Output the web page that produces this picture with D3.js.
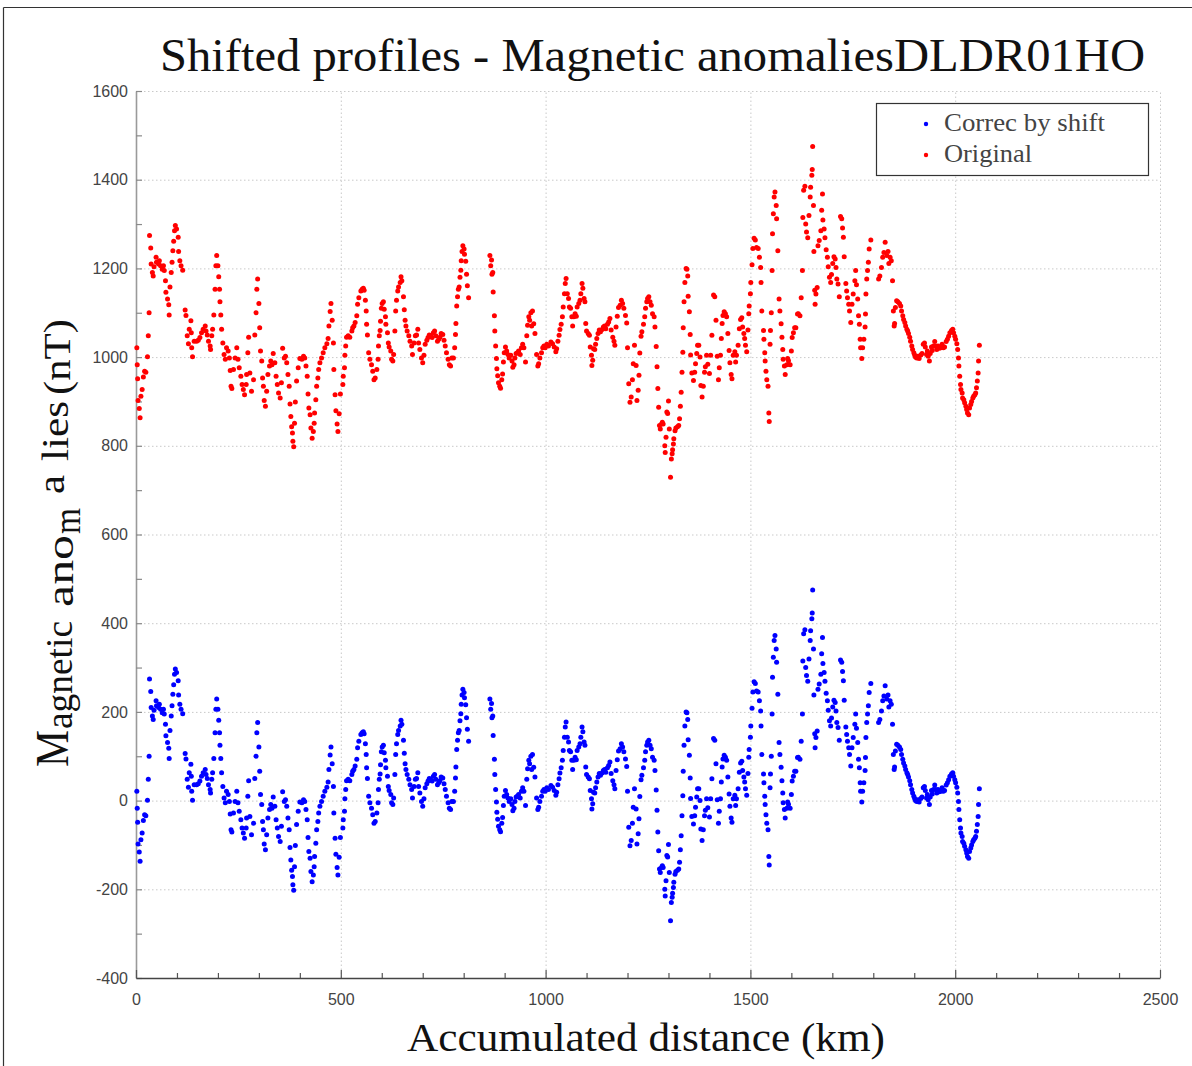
<!DOCTYPE html>
<html>
<head>
<meta charset="utf-8">
<script src="https://cdn.jsdelivr.net/npm/d3@7"></script>
<style>
  body { margin: 0; background: #fff; }
  svg { display: block; }
</style>
</head>
<body>
<svg id="chart" width="1192" height="1066"></svg>
<script>
// Accumulated distance along the DLDR01HO track (km)
const distanceKm = [
2,3,4,5,8,10,12,15,18,21,24,28,30,32,33,36,37,40,42,44,49,50,55,57,60,64,67,69,72,73,
77,80,81,83,86,88,90,92,94,96,99,103,104,107,110,114,120,122,125,128,130,134,135,136,138,142,148,152,156,160,
164,169,171,174,177,181,182,185,187,190,193,195,197,200,202,204,205,207,209,212,215,218,221,225,228,230,232,234,238,242,
246,249,252,256,259,262,265,269,270,273,275,278,282,287,290,293,295,297,300,302,304,307,309,311,313,316,319,322,326,329,
332,335,339,342,345,348,352,355,358,362,365,368,371,374,376,378,380,382,383,385,387,389,392,396,400,405,409,412,415,418,
420,422,425,427,430,433,435,436,439,441,444,446,449,453,457,461,466,469,471,474,476,479,482,483,486,488,491,493,496,499,
505,506,509,510,512,514,518,522,527,529,532,535,539,541,544,549,552,555,557,560,562,563,565,568,571,575,578,581,584,588,
591,592,594,596,597,599,601,604,606,609,610,614,616,618,622,624,627,629,632,634,636,639,641,645,647,649,653,655,657,659,
662,666,669,673,675,679,682,685,688,690,693,697,700,703,706,710,713,716,719,723,726,729,732,736,739,742,745,749,752,755,
758,762,765,768,771,775,778,780,781,783,785,787,789,791,793,794,796,798,801,802,805,807,809,812,
864,866,868,869,871,872,875,876,878,880,881,883,885,888,890,893,895,897,899,902,905,908,911,915,918,920,923,925,928,931,
934,938,941,944,947,951,954,956,959,961,964,966,968,971,974,978,981,983,986,990,993,996,999,1003,1007,
1013,1017,1021,1025,1027,1030,1033,1035,1038,1041,1043,1046,1048,1050,1053,1056,1058,1061,1064,1066,
1069,1072,1075,1077,1081,1084,1086,1089,1091,1094,1096,1098,1100,1104,1107,1109,1112,1113,1115,1117,
1120,1122,1125,1128,1131,1134,1138,1141,1144,1147,1151,1154,1157,1160,1164,1167,1169,1172,1175,1178,
1182,1185,1188,1191,1195,1198,1200,1203,1206,1209,1212,1214,1217,1221,1223,1226,1228,1230,1233,1235,
1239,1242,1244,1247,1249,1252,1255,1258,1261,1265,1267,1270,1272,1274,1276,1278,1280,1283,1285,1287,
1291,1292,1294,1296,1298,1300,1302,1305,1307,1309,1310,1312,1313,1316,1318,1322,1325,1327,1329,1331,
1333,1335,1336,1338,1340,1343,1345,1347,1348,1351,1353,1354,1357,1361,1364,1366,1369,1371,1374,1377,
1379,1382,1385,1388,1390,1393,1396,1400,1403,1406,1410,1413,1416,1419,1422,1424,1427,1429,1431,1433,
1436,1439,1442,1445,1448,1450,1453,1455,1458,1462,1464,1466,1470,1473,1476,1479,1481,1484,1486,1488,
1491,1494,1496,1497,1500,1501,1504,1506,1509,1512,1515,1519,1522,
1525,1526,1528,1532,1533,1535,1536,1538,1540,1543,1545,1546,1548,1549,1551,1553,1554,1556,1558,1560,
1563,1564,1567,1570,1572,1575,1577,1579,1580,1583,1585,1589,1591,1593,1597,1600,1602,1605,1608,1611,
1615,1617,1621,1624,1627,1628,1630,1633,1635,1637,1640,1643,1646,1647,1650,1651,1652,1654,1655,1657,
1658,1660,1663,1665,1668,1672,1674,1676,1677,1680,1682,1685,1688,1690,1693,1696,1698,1701,1704,1707,
1709,1711,1714,1717,1720,1723,1725,1727,1729,1733,1735,1737,1740,1742,1745,1748,1751,1755,1757,1759,
1762,1764,1766,1768,1769,1772,1774,1777,1780,1781,1782,1784,1786,1788,1790,1794,1813,1816,1820,1823,
1826,1829,1833,1836,1838,1841,1844,1847,1849,1851,1852,1854,1857,1860,1864,1867,1869,1872,1874,1877,
1879,1882,1884,1886,1889,1891,1894,1896,1899,1901,1903,1906,1909,1912,1916,1919,1922,1925,1927,1930,
1932,1934,1937,1939,1942,1944,1947,1950,1952,1955,1958,1961,1965,1968,1971,1974,1978,1981,1984,1987,
1991,1994,1996,1999,2001,2004,2006,2008,2009,2011,2013,2014,2017,2018,2021,2023,2026,2028,2030,2033,
2035,2038,2040,2043,2045,2048,2050,2052,2054,2056,2057,2059
];

// Magnetic anomaly as recorded (nT)
const originalNT = [
1021,983,951,902,884,863,912,927,955,968,966,1001,1048,1100,1274,1246,1210,1191,1183,1204,1225,1214,1210,1217,1206,1198,1206,1195,1172,1146,
1131,1118,1095,1158,1191,1214,1240,1261,1285,1297,1289,1270,1238,1217,1206,1196,1106,1094,1048,1030,1063,1082,1055,1021,1001,1036,1036,1038,1044,1055,
1063,1070,1059,1050,1036,1025,1017,1048,1063,1095,1153,1206,1229,1206,1181,1153,1125,1095,1063,1032,1006,995,1021,1014,998,970,934,929,972,998,
1021,995,976,957,938,927,915,938,961,1010,1045,964,923,949,1050,1100,1153,1176,1121,1066,1014,991,953,934,902,889,923,961,980,991,
983,1008,987,957,938,919,908,942,1020,998,1002,987,961,934,894,866,843,829,810,798,851,899,946,976,997,995,1002,998,980,957,
917,885,870,840,817,832,851,874,904,934,953,972,987,998,1010,1021,1030,1042,1070,1103,1121,1083,1032,972,915,879,849,832,872,917,
938,957,976,1004,1025,1045,1048,1045,1059,1066,1070,1078,1093,1119,1134,1149,1153,1155,1151,1128,1104,1074,1050,1010,995,983,968,949,953,972,
995,1025,1048,1060,1081,1110,1121,1125,1108,1091,1074,1055,1032,1023,1014,995,991,1006,1059,1104,1128,1149,1158,1168,1181,1172,1136,1107,1083,1070,
1059,1048,1036,1025,1006,1032,1048,1050,1063,1032,1017,998,987,1004,1029,1038,1044,1050,1048,1044,1055,1059,1048,1036,1040,1045,1053,1051,1038,1025,
1010,995,983,980,998,998,1021,1051,1076,1115,1136,1153,1158,1180,1196,1217,1238,1251,1244,1232,1216,1187,1161,1134,
1229,1206,1219,1187,1191,1147,1093,1059,1025,997,974,958,942,934,930,949,962,989,1010,1023,1014,1006,998,1004,991,977,983,998,1008,1010,
1014,1006,1021,1029,1021,989,1048,1072,1091,1083,1100,1070,1104,1075,1053,1006,980,985,998,1010,1021,1025,1021,1029,1025,
1034,1030,1023,1012,1019,1036,1049,1062,1074,1091,1113,1143,1166,1177,1143,1132,1113,1110,1091,1070,
1091,1098,1092,1113,1121,1128,1143,1166,1155,1132,1125,1076,1059,1053,1049,1023,1004,981,993,1019,
1017,1029,1042,1053,1061,1057,1062,1068,1070,1064,1074,1079,1087,1061,1045,1036,1027,1068,1092,1112,
1117,1128,1121,1110,1094,1077,1021,940,898,910,949,985,1027,981,902,925,959,1009,1047,1057,
1074,1091,1110,1125,1132,1136,1125,1117,1098,1091,1068,1024,978,929,887,846,838,849,853,849,
800,785,819,876,873,901,838,729,770,782,791,804,816,834,840,843,846,861,889,921,
966,1011,1066,1125,1168,1200,1198,1183,1137,1102,1051,1005,964,947,966,985,1008,1027,1027,1000,
936,910,934,966,978,1004,984,963,1004,1049,1140,1136,1083,1002,949,976,1004,1042,1076,1094,
1102,1098,1091,1053,1015,987,961,951,1004,1012,989,1004,1027,1064,1085,1089,1068,1053,1042,1027,
1012,1061,1098,1115,1143,1168,1208,1245,1268,1264,1247,1245,1225,
1202,1168,1104,1060,1040,1010,991,968,949,934,874,855,1029,1060,1100,1195,1278,1323,1361,1372,
1342,1312,1240,1131,1104,1075,1045,1017,995,980,961,983,997,992,983,1014,1044,1055,1066,1066,
1097,1098,1093,1134,1195,1315,1376,1385,1300,1282,1269,1319,1361,1383,1410,1423,1475,1342,1238,1151,
1119,1142,1157,1251,1263,1285,1331,1368,1309,1289,1269,1242,1225,1204,1180,1168,1186,1211,1226,1221,
1202,1176,1165,1136,1317,1312,1291,1270,1226,1166,1149,1134,1119,1104,1078,1119,1142,1172,1195,1163,
1131,1093,1074,1040,1021,997,1021,1040,1068,1097,1142,1176,1195,1214,1244,1264,1176,1183,1202,1225,
1236,1259,1229,1238,1211,1225,1217,1172,1104,1070,1076,1112,1127,1125,1121,1115,1104,1093,1085,1078,
1070,1063,1059,1053,1045,1036,1025,1017,1010,1005,1000,998,1002,997,1005,1008,1029,1032,1023,1006,
1014,1002,991,1008,1023,1015,1025,1035,1025,1017,1025,1020,1021,1029,1021,1023,1035,1040,1047,1055,
1060,1063,1055,1047,1040,1030,1017,998,980,957,938,927,919,908,904,897,889,882,874,870,
885,893,900,908,912,915,919,931,946,964,991,1027
];

// Magnetic anomaly after the level shift (nT)
const correctedNT = [
21,-17,-49,-98,-116,-137,-88,-73,-45,-32,-34,1,48,100,274,246,210,191,183,204,225,214,210,217,206,198,206,195,172,146,
131,118,95,158,191,214,240,261,285,297,289,270,238,217,206,196,106,94,48,30,63,82,55,21,1,36,36,38,44,55,
63,70,59,50,36,25,17,48,63,95,153,206,229,206,181,153,125,95,63,32,6,-5,21,14,-2,-30,-66,-71,-28,-2,
21,-5,-24,-43,-62,-73,-85,-62,-39,10,45,-36,-77,-51,50,100,153,176,121,66,14,-9,-47,-66,-98,-111,-77,-39,-20,-9,
-17,8,-13,-43,-62,-81,-92,-58,20,-2,2,-13,-39,-66,-106,-134,-157,-171,-190,-202,-149,-101,-54,-24,-3,-5,2,-2,-20,-43,
-83,-115,-130,-160,-183,-168,-149,-126,-96,-66,-47,-28,-13,-2,10,21,30,42,70,103,121,83,32,-28,-85,-121,-151,-168,-128,-83,
-62,-43,-24,4,25,45,48,45,59,66,70,78,93,119,134,149,153,155,151,128,104,74,50,10,-5,-17,-32,-51,-47,-28,
-5,25,48,60,81,110,121,125,108,91,74,55,32,23,14,-5,-9,6,59,104,128,149,158,168,181,172,136,107,83,70,
59,48,36,25,6,32,48,50,63,32,17,-2,-13,4,29,38,44,50,48,44,55,59,48,36,40,45,53,51,38,25,
10,-5,-17,-20,-2,-2,21,51,76,115,136,153,158,180,196,217,238,251,244,232,216,187,161,134,
229,206,219,187,191,147,93,59,25,-3,-26,-42,-58,-66,-70,-51,-38,-11,10,23,14,6,-2,4,-9,-23,-17,-2,8,10,
14,6,21,29,21,-11,48,72,91,83,100,70,104,75,53,6,-20,-15,-2,10,21,25,21,29,25,
34,30,23,12,19,36,49,62,74,91,113,143,166,177,143,132,113,110,91,70,
91,98,92,113,121,128,143,166,155,132,125,76,59,53,49,23,4,-19,-7,19,
17,29,42,53,61,57,62,68,70,64,74,79,87,61,45,36,27,68,92,112,
117,128,121,110,94,77,21,-60,-102,-90,-51,-15,27,-19,-98,-75,-41,9,47,57,
74,91,110,125,132,136,125,117,98,91,68,24,-22,-71,-113,-154,-162,-151,-147,-151,
-200,-215,-181,-124,-127,-99,-162,-271,-230,-218,-209,-196,-184,-166,-160,-157,-154,-139,-111,-79,
-34,11,66,125,168,200,198,183,137,102,51,5,-36,-53,-34,-15,8,27,27,0,
-64,-90,-66,-34,-22,4,-16,-37,4,49,140,136,83,2,-51,-24,4,42,76,94,
102,98,91,53,15,-13,-39,-49,4,12,-11,4,27,64,85,89,68,53,42,27,
12,61,98,115,143,168,208,245,268,264,247,245,225,
202,168,104,60,40,10,-9,-32,-51,-66,-126,-145,29,60,100,195,278,323,361,372,
342,312,240,131,104,75,45,17,-5,-20,-39,-17,-3,-8,-17,14,44,55,66,66,
97,98,93,134,195,315,376,385,300,282,269,319,361,383,410,423,475,342,238,151,
119,142,157,251,263,285,331,368,309,289,269,242,225,204,180,168,186,211,226,221,
202,176,165,136,317,312,291,270,226,166,149,134,119,104,78,119,142,172,195,163,
131,93,74,40,21,-3,21,40,68,97,142,176,195,214,244,264,176,183,202,225,
236,259,229,238,211,225,217,172,104,70,76,112,127,125,121,115,104,93,85,78,
70,63,59,53,45,36,25,17,10,5,0,-2,2,-3,5,8,29,32,23,6,
14,2,-9,8,23,15,25,35,25,17,25,20,21,29,21,23,35,40,47,55,
60,63,55,47,40,30,17,-2,-20,-43,-62,-73,-81,-92,-96,-103,-111,-118,-126,-130,
-115,-107,-100,-92,-88,-85,-81,-69,-54,-36,-9,27
];

// Axis tick labels
const yTickLabels = [-400, -200, 0, 200, 400, 600, 800, 1000, 1200, 1400, 1600];
const xTickLabels = [0, 500, 1000, 1500, 2000, 2500];
const seriesNames = ["Correc by shift", "Original"];
const seriesColors = ["#0000ff", "#ff0000"];

const serif = "'Liberation Serif', 'DejaVu Serif', serif";
const sans = "'Liberation Sans', Arial, sans-serif";

const svg = d3.select("#chart");
const x = d3.scaleLinear().domain([0, 2500]).range([136, 1160]);
const y = d3.scaleLinear().domain([-400, 1600]).range([978, 91]);

// Figure frame (top and left edges)
svg.append("line").attr("x1", 3.5).attr("x2", 1192).attr("y1", 7.5).attr("y2", 7.5)
  .attr("stroke", "#333").attr("stroke-width", 1.2);
svg.append("line").attr("x1", 3.5).attr("x2", 3.5).attr("y1", 7.5).attr("y2", 1066)
  .attr("stroke", "#333").attr("stroke-width", 1.2);

// Dotted grid
const grid = svg.append("g").attr("stroke", "#c9c9c9").attr("stroke-width", 1)
  .attr("stroke-dasharray", "1.5,2.5");
grid.selectAll("line.h").data(yTickLabels.filter(v => v > -400)).join("line")
  .attr("class", "h")
  .attr("x1", x(0)).attr("x2", x(2500))
  .attr("y1", d => y(d) + 0.5).attr("y2", d => y(d) + 0.5);
grid.selectAll("line.v").data(xTickLabels.filter(v => v > 0)).join("line")
  .attr("class", "v")
  .attr("y1", y(-400)).attr("y2", y(1600))
  .attr("x1", d => x(d) + 0.5).attr("x2", d => x(d) + 0.5);

// Left axis: ticks every 100, labels every 200
const yAxis = d3.axisLeft(y)
  .tickValues(d3.range(-400, 1601, 100))
  .tickSizeInner(-6).tickSizeOuter(0).tickPadding(8)
  .tickFormat(d => yTickLabels.includes(d) ? d : "");
const gy = svg.append("g").attr("transform", `translate(${x(0)},0)`).call(yAxis);
gy.select(".domain").attr("stroke", "#9a9a9a").attr("stroke-width", 1.6);
gy.selectAll(".tick line").attr("stroke", "#8a8a8a").attr("stroke-width", 1.2);
gy.selectAll(".tick text").attr("font-family", sans).attr("font-size", 16).attr("fill", "#444");

// Bottom axis: ticks every 100, labels every 500
const xAxis = d3.axisBottom(x)
  .tickValues(d3.range(0, 2501, 100))
  .tickSizeInner(-5).tickSizeOuter(0).tickPadding(16)
  .tickFormat(d => xTickLabels.includes(d) ? d : "");
const gx = svg.append("g").attr("transform", `translate(0,${y(-400)})`).call(xAxis);
gx.select(".domain").attr("stroke", "#444").attr("stroke-width", 1.6);
gx.selectAll(".tick line").attr("stroke", "#555").attr("stroke-width", 1.2)
  .attr("y2", d => xTickLabels.includes(d) ? -8 : -5);
gx.selectAll(".tick text").attr("font-family", sans).attr("font-size", 16).attr("fill", "#444");

// Profiles
const plot = svg.append("g");
const seriesValues = [correctedNT, originalNT];
seriesValues.forEach((vals, si) => {
  plot.append("g").attr("fill", seriesColors[si])
    .selectAll("circle").data(distanceKm).join("circle")
    .attr("cx", (d) => x(d))
    .attr("cy", (d, i) => y(vals[i]))
    .attr("r", 2.5);
});

// Title
svg.append("text")
  .attr("x", 160).attr("y", 71)
  .attr("font-family", serif).attr("font-size", 47).attr("fill", "#111")
  .attr("textLength", 985).attr("lengthAdjust", "spacingAndGlyphs")
  .text("Shifted profiles - Magnetic anomaliesDLDR01HO");

// X axis title
svg.append("text")
  .attr("x", 407).attr("y", 1051)
  .attr("font-family", serif).attr("font-size", 40).attr("fill", "#111")
  .attr("textLength", 478).attr("lengthAdjust", "spacingAndGlyphs")
  .text("Accumulated distance (km)");

// Y axis title, drawn as shifted runs
const yt = svg.append("text")
  .attr("transform", "rotate(-90)")
  .attr("font-family", serif).attr("fill", "#111");
const yParts = [
  { t: "M", s: 46, px: 767, len: 37, base: 68 },
  { t: "agnetic", s: 38, px: 729, len: 108, base: 72 },
  { t: "ano", s: 38, px: 607, len: 72, base: 73 },
  { t: "m", s: 38, px: 534, len: 26, base: 80 },
  { t: "a", s: 38, px: 494, len: 19, base: 64 },
  { t: "lies", s: 38, px: 461, len: 60, base: 68 },
  { t: "(nT)", s: 38, px: 395, len: 76, base: 70 }
];
yParts.forEach(p => {
  yt.append("tspan").attr("x", -p.px).attr("y", p.base).attr("font-size", p.s)
    .attr("textLength", p.len).attr("lengthAdjust", "spacingAndGlyphs").text(p.t);
});

// Legend
const lg = svg.append("g");
lg.append("rect").attr("x", 876.5).attr("y", 103.5).attr("width", 272).attr("height", 72)
  .attr("fill", "#fff").attr("stroke", "#333").attr("stroke-width", 1.2);
const legendLens = [161, 88];
seriesNames.forEach((name, i) => {
  lg.append("circle").attr("cx", 926).attr("cy", 124 + i * 31).attr("r", 2.2).attr("fill", seriesColors[i]);
  lg.append("text").attr("x", 944).attr("y", 131 + i * 31)
    .attr("font-family", serif).attr("font-size", 25).attr("fill", "#444")
    .attr("textLength", legendLens[i]).attr("lengthAdjust", "spacingAndGlyphs").text(name);
});
</script>
</body>
</html>
